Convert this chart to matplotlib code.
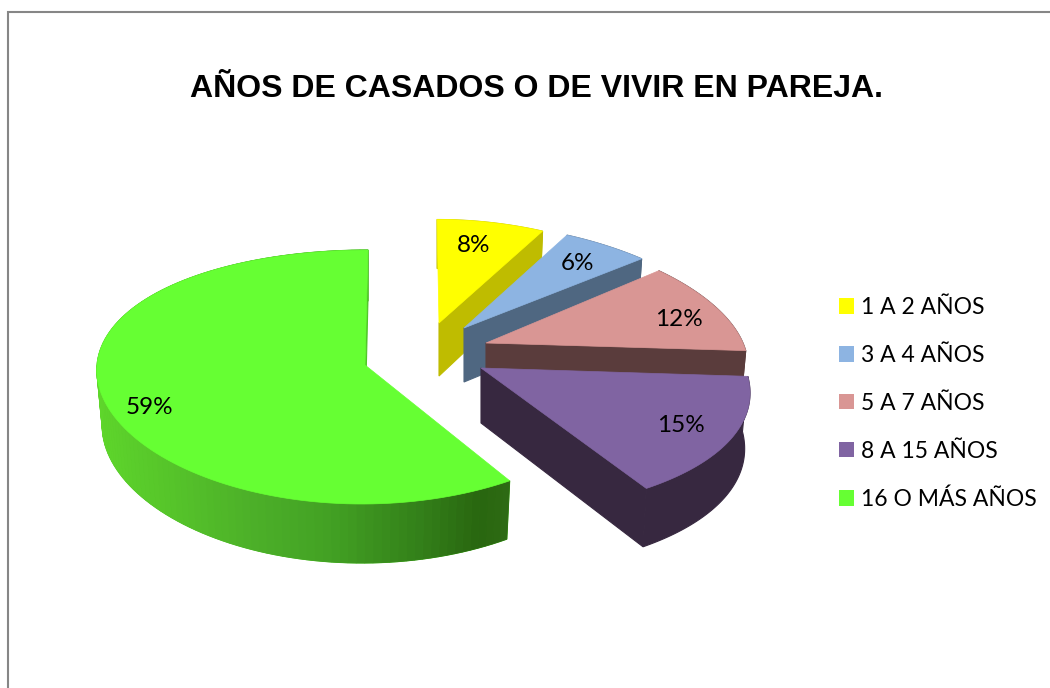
import numpy as np
import matplotlib
matplotlib.use('Agg')
import matplotlib.pyplot as plt
from matplotlib.patches import Polygon, Patch

categories = ['1 A 2 AÑOS', '3 A 4 AÑOS', '5 A 7 AÑOS', '8 A 15 AÑOS', '16 O MÁS AÑOS']
values = [8, 6, 12, 15, 59]
pct_labels = ['8%', '6%', '12%', '15%', '59%']
title_text = 'AÑOS DE CASADOS O DE VIVIR EN PAREJA.'

top_colors = ['#ffff00', '#8db4e2', '#d99694', '#8064a2', '#66ff33']
wall_colors = ['#bfbc00', '#4f6781', '#5a3c3c', '#372840', '#4fc727']

# layout of each exploded slice, in pixels of the 1050x688 picture
apex_x = [439, 464, 486, 481, 365]
apex_y = [323, 328, 343, 368, 365]
radius_x = [265, 268, 257, 264, 268]
scale_y = [0.90, 0.91, 0.95, 1.04, 1.00]
lean_d = [10, 20, 0, 0, -100]
lean_k = [0.2, 0.2, 0.2, 0.2, 0.03]
depth = [53, 54, 55, 55, 55]
label_xy = [(474, 245), (578, 263), (679, 319), (681, 426), (149, 407)]
# drawn back to front, green goes first since nothing overlaps it
draw_order = [4, 0, 1, 2, 3]

# shading of the green rim, left to right
green_x = [95, 250, 330, 420, 480, 510]
green_c = [(0.37, 0.84, 0.17), (0.30, 0.69, 0.16), (0.26, 0.63, 0.14),
           (0.20, 0.50, 0.10), (0.16, 0.40, 0.06), (0.18, 0.42, 0.08)]

plt.rcParams['font.family'] = ['Lato', 'DejaVu Sans']


def rim(i, theta):
    """top face point of slice i at clockwise angle theta (radians from 12 o'clock)"""
    u, v = np.sin(theta), -np.cos(theta)
    d = lean_d[i]
    x = apex_x[i] + (d + radius_x[i] * u) * (1 + lean_k[i] * v) - d
    y = apex_y[i] + v * (127 + 12 * v) * scale_y[i]
    return x, y


def lower(i, x, y, v=0.0):
    """same point moved down to the bottom face"""
    xb = apex_x[i] + (x - apex_x[i]) * 0.98
    yb = y + depth[i] + 4 * v
    return xb, yb


def green_shade(x):
    c = np.array(green_c)
    return tuple(np.interp(x, green_x, c[:, n]) for n in range(3))


fig = plt.figure(figsize=(10.5, 6.88), dpi=100)
ax = fig.add_axes([0, 0, 1, 1])
ax.set_xlim(0, 1050)
ax.set_ylim(688, 0)
ax.axis('off')

edges = np.cumsum([0] + values) / sum(values) * 2 * np.pi

for i in draw_order:
    t0, t1 = edges[i], edges[i + 1]
    ts = np.linspace(t0, t1, 121)
    xs, ys = rim(i, ts)
    vs = -np.cos(ts)
    xb, yb = lower(i, xs, ys, vs)

    # outer wall in one piece
    wall = np.column_stack([np.r_[xs, xb[::-1]], np.r_[ys, yb[::-1]]])
    ax.add_patch(Polygon(wall, closed=True, facecolor=wall_colors[i], edgecolor=wall_colors[i], linewidth=0.8))

    # green rim gets shaded strips on top of that
    if i == 4:
        for n in range(len(ts) - 1):
            col = green_shade((xs[n] + xs[n + 1]) / 2)
            ax.add_patch(Polygon([(xs[n], ys[n]), (xs[n + 1], ys[n + 1]), (xb[n + 1], yb[n + 1]), (xb[n], yb[n])],
                                 closed=True, facecolor=col, edgecolor=col, linewidth=0.6))

    # cut wall at the clockwise end of the slice
    ax0, ay0 = apex_x[i], apex_y[i]
    ax1, ay1 = lower(i, ax0, ay0)
    ax.add_patch(Polygon([(xs[-1], ys[-1]), (ax0, ay0), (ax1, ay1), (xb[-1], yb[-1])],
                         closed=True, facecolor=wall_colors[i], edgecolor=wall_colors[i], linewidth=0.8))

    # top face
    ax.add_patch(Polygon(np.column_stack([np.r_[ax0, xs], np.r_[ay0, ys]]),
                         closed=True, facecolor=top_colors[i], edgecolor=top_colors[i], linewidth=0.5))

for (x, y), s in zip(label_xy, pct_labels):
    ax.text(x, y, s, ha='center', va='center', fontsize=17.5, color='black')

ax.text(536, 89, title_text, ha='center', va='center', fontsize=23, fontweight='bold',
        family=['Liberation Sans', 'DejaVu Sans'], color='black')

handles = [Patch(facecolor=c, edgecolor=c, linewidth=0) for c in top_colors]
ax.legend(handles, categories, loc='upper left', bbox_to_anchor=(830 / 1050, 1 - 288 / 688), frameon=False,
          fontsize=16.5, handlelength=0.66, handleheight=0.66, handletextpad=0.3,
          labelspacing=1.17, borderpad=0.4, borderaxespad=0)

# chart frame, only left and top fall inside the picture
ax.plot([7.5, 7.5, 1050], [688, 11.5, 11.5], color='#868686', linewidth=1.5, clip_on=False, solid_joinstyle='miter')

fig.savefig('out.png', dpi=100)
